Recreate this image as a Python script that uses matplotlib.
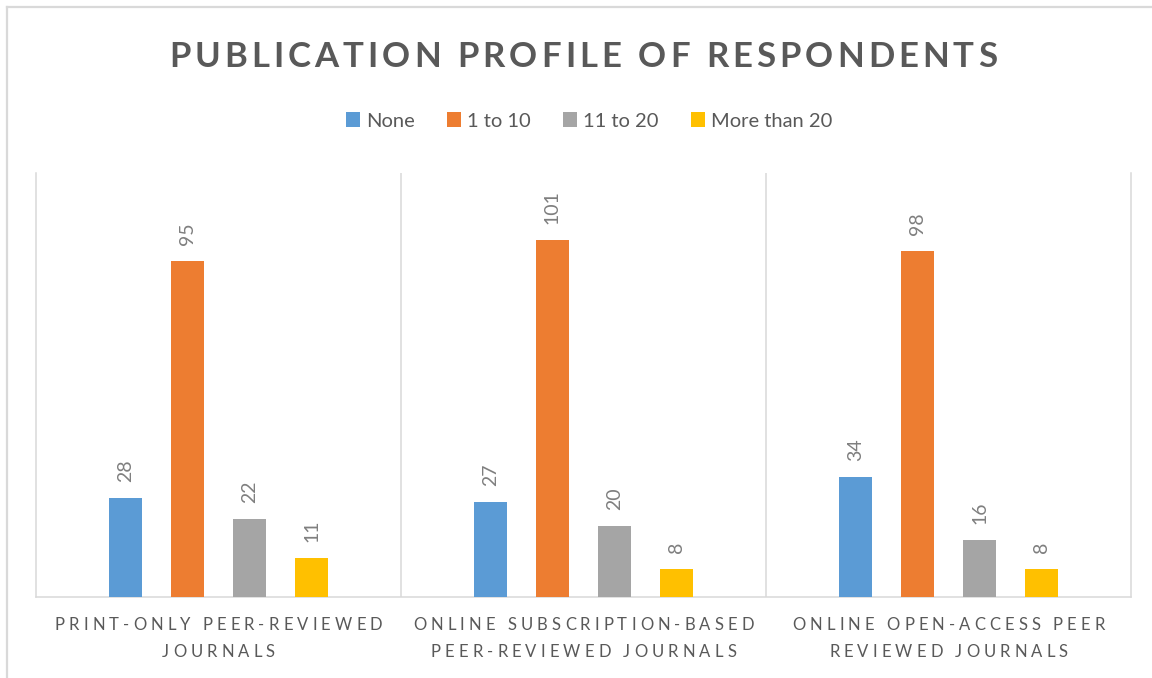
import matplotlib
matplotlib.use('Agg')
import matplotlib.pyplot as plt
import numpy as np
from matplotlib.lines import Line2D

plt.rcParams['font.family'] = ['Lato', 'DejaVu Sans']

# data
categories = [['PRINT-ONLY PEER-REVIEWED', 'JOURNALS'],
              ['ONLINE SUBSCRIPTION-BASED', 'PEER-REVIEWED JOURNALS'],
              ['ONLINE OPEN-ACCESS PEER', 'REVIEWED JOURNALS']]
series = ['None', '1 to 10', '11 to 20', 'More than 20']
none_vals = [28, 27, 34]
one_to_ten = [95, 101, 98]
eleven_to_twenty = [22, 20, 16]
more_than_twenty = [11, 8, 8]
colors = ['#5B9BD5', '#ED7D31', '#A5A5A5', '#FFC000']

W, H = 1152, 678
fig = plt.figure(figsize=(W / 100, H / 100), dpi=100)
ax = fig.add_axes([36 / W, 1 - 597 / H, (1131 - 36) / W, (597 - 173) / H])

x = np.arange(len(categories))
width = 0.09
offsets = [-0.2555, -0.0853, 0.0853, 0.2555]
all_vals = [none_vals, one_to_ten, eleven_to_twenty, more_than_twenty]
bars = []
for vals, off, c, name in zip(all_vals, offsets, colors, series):
    b = ax.bar(x + off, vals, width, color=c, label=name, zorder=3)
    bars.append(b)
    for rect, v in zip(b, vals):
        ax.annotate(str(v), (rect.get_x() + rect.get_width() / 2, v),
                    xytext=(0, 11.5), textcoords='offset points',
                    ha='center', va='bottom', rotation=90,
                    fontsize=14, color='#7F7F7F')

ax.set_xlim(-0.5, 2.5)
ax.set_ylim(0, 120)
ax.set_xticks([])
ax.set_yticks([])
grid_c = '#D9D9D9'
for s in ['left', 'right', 'bottom']:
    ax.spines[s].set_color(grid_c)
    ax.spines[s].set_linewidth(1.1)
ax.spines['top'].set_visible(False)
for xv in [0.5, 1.5]:
    ax.axvline(xv, color=grid_c, lw=1.1, zorder=1)

# outer chart border (top and left edges visible)
fig.add_artist(Line2D([7 / W, 7 / W], [0, 1 - 7 / H], color=grid_c, lw=1.6))
fig.add_artist(Line2D([7 / W, 1], [1 - 7 / H, 1 - 7 / H], color=grid_c, lw=1.6))

renderer = fig.canvas.get_renderer()
_cache = {}


def char_width(ch, size, weight):
    key = (ch, size, weight)
    if key not in _cache:
        t1 = fig.text(0, 0, 'x' + ch + 'x', fontsize=size, fontweight=weight)
        t2 = fig.text(0, 0, 'xx', fontsize=size, fontweight=weight)
        _cache[key] = t1.get_window_extent(renderer).width - t2.get_window_extent(renderer).width
        t1.remove()
        t2.remove()
    return _cache[key]


def spaced_text(s, cx, baseline, size, tracking=None, target=None,
                weight='normal', color='#595959'):
    ws = [char_width(ch, size, weight) for ch in s]
    if target is not None:
        tracking = (target - sum(ws)) / (len(s) - 1)
    total = sum(ws) + tracking * (len(s) - 1)
    px = cx - total / 2
    for ch, w in zip(s, ws):
        if ch != ' ':
            fig.text(px / W, 1 - baseline / H, ch, fontsize=size,
                     fontweight=weight, color=color, ha='left', va='baseline')
        px += w + tracking


# title
spaced_text('PUBLICATION PROFILE OF RESPONDENTS', 583, 67, 25,
            target=828, weight='bold')

# category labels
for i, lines in enumerate(categories):
    cx = ax.transData.transform((i, 0))[0]
    for j, line in enumerate(lines):
        spaced_text(line, cx, 630 + 27 * j, 12, tracking=4.1)

fig.legend(handles=bars, labels=series, loc='center',
           bbox_to_anchor=(589 / W, 1 - 121 / H), ncol=4, frameon=False,
           fontsize=14.5, handlelength=0.7, handleheight=0.7,
           handletextpad=0.3, columnspacing=1.6, labelcolor='#595959')

fig.savefig('out.png', dpi=100, facecolor='white')
